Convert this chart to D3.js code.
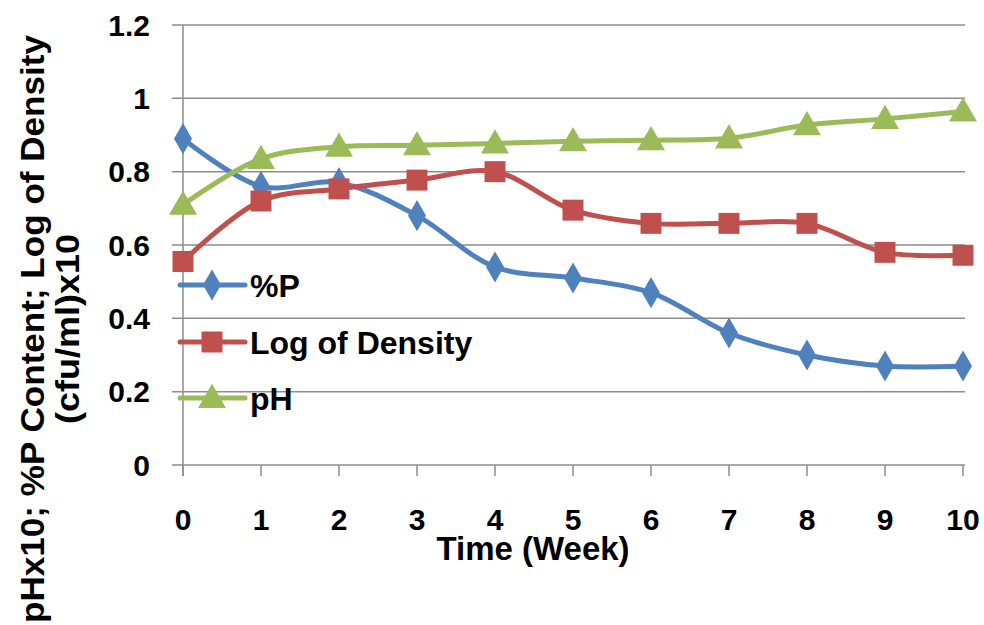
<!DOCTYPE html>
<html><head><meta charset="utf-8">
<script src="https://cdn.jsdelivr.net/npm/d3@7"></script>
<style>body{margin:0;background:#fff}svg{display:block}text{font-family:"Liberation Sans",Arial,sans-serif;font-weight:bold;fill:#000}</style>
</head><body><svg id="c" width="984" height="625"></svg>
<script>
const weeks = [0,1,2,3,4,5,6,7,8,9,10];
const seriesNames = ["%P","Log of Density","pH"];
const pContent = [0.89,0.76,0.77,0.68,0.54,0.51,0.47,0.36,0.30,0.27,0.27];
const logDensity = [0.555,0.72,0.753,0.777,0.80,0.695,0.659,0.659,0.659,0.58,0.572];
const pH = [0.71,0.835,0.868,0.872,0.877,0.883,0.886,0.891,0.927,0.944,0.964];
const yTicks = [0,0.2,0.4,0.6,0.8,1,1.2];
const yTickLabels = ["0","0.2","0.4","0.6","0.8","1","1.2"];
const xTitle = "Time (Week)";
const yTitle1 = "pHx10; %P Content; Log of Density";
const yTitle2 = "(cfu/ml)x10";

const colors = ["#4F81BD","#C0504D","#9BBB59"];
const symbols = [d3.symbolDiamond, d3.symbolSquare, d3.symbolTriangle];
const symSizes = [280, 440, 340];

const svg = d3.select("#c");
const x = d3.scaleLinear().domain([0,10]).range([183,963]);
const y = d3.scaleLinear().domain([0,1.2]).range([465,25]);

// gridlines
const g = svg.append("g");
g.selectAll("line.grid").data(yTicks).join("line")
  .attr("x1",172).attr("x2",965)
  .attr("y1",d=>y(d)).attr("y2",d=>y(d))
  .attr("stroke","#8c8c8c").attr("stroke-width",1.5);

// y axis line
g.append("line").attr("x1",x(0)).attr("x2",x(0)).attr("y1",y(1.2)).attr("y2",y(0)+11)
  .attr("stroke","#8c8c8c").attr("stroke-width",1.5);
// x ticks
g.selectAll("line.xt").data(weeks).join("line")
  .attr("x1",d=>x(d)).attr("x2",d=>x(d)).attr("y1",y(0)).attr("y2",y(0)+11)
  .attr("stroke","#8c8c8c").attr("stroke-width",1.5);

// tick labels
svg.selectAll("text.yl").data(yTicks).join("text")
  .attr("x",150).attr("y",d=>y(d)).attr("dy","0.36em")
  .attr("text-anchor","end").attr("font-size",30)
  .text((d,i)=>yTickLabels[i]);
svg.selectAll("text.xl").data(weeks).join("text")
  .attr("x",d=>x(d)).attr("y",530)
  .attr("text-anchor","middle").attr("font-size",30)
  .text(d=>String(d));

// titles
svg.append("text").attr("x",533).attr("y",560).attr("text-anchor","middle")
  .attr("font-size",33).text(xTitle);
svg.append("text").attr("transform","translate(44,329) rotate(-90)")
  .attr("text-anchor","middle").attr("font-size",34)
  .attr("textLength",588).attr("lengthAdjust","spacingAndGlyphs").text(yTitle1);
svg.append("text").attr("transform","translate(79,329) rotate(-90)")
  .attr("text-anchor","middle").attr("font-size",33)
  .attr("textLength",190).attr("lengthAdjust","spacingAndGlyphs").text(yTitle2);

// series
const allSeries = [pContent, logDensity, pH];
const line = d3.line().x((d,i)=>x(weeks[i])).y(d=>y(d)).curve(d3.curveCatmullRom.alpha(0.5));
allSeries.forEach((vals,si)=>{
  svg.append("path").attr("d",line(vals)).attr("fill","none")
    .attr("stroke",colors[si]).attr("stroke-width",5).attr("stroke-linejoin","round");
});
allSeries.forEach((vals,si)=>{
  const sym = d3.symbol().type(symbols[si]).size(symSizes[si]);
  svg.selectAll(null).data(vals).join("path")
    .attr("transform",(d,i)=>`translate(${x(weeks[i])},${y(d) + (si===2?2:0)})`)
    .attr("d",sym()).attr("fill",colors[si]);
});

// legend
const legY = [285,342,398];
seriesNames.forEach((name,si)=>{
  const ly = legY[si];
  svg.append("line").attr("x1",180).attr("x2",245).attr("y1",ly).attr("y2",ly)
    .attr("stroke",colors[si]).attr("stroke-width",5).attr("stroke-linecap","round");
  svg.append("path").attr("transform",`translate(212,${ly + (si===2?2:0)})`)
    .attr("d",d3.symbol().type(symbols[si]).size(symSizes[si])()).attr("fill",colors[si]);
  svg.append("text").attr("x",250).attr("y",ly).attr("dy","0.36em")
    .attr("font-size",32).text(name);
});
</script></body></html>
